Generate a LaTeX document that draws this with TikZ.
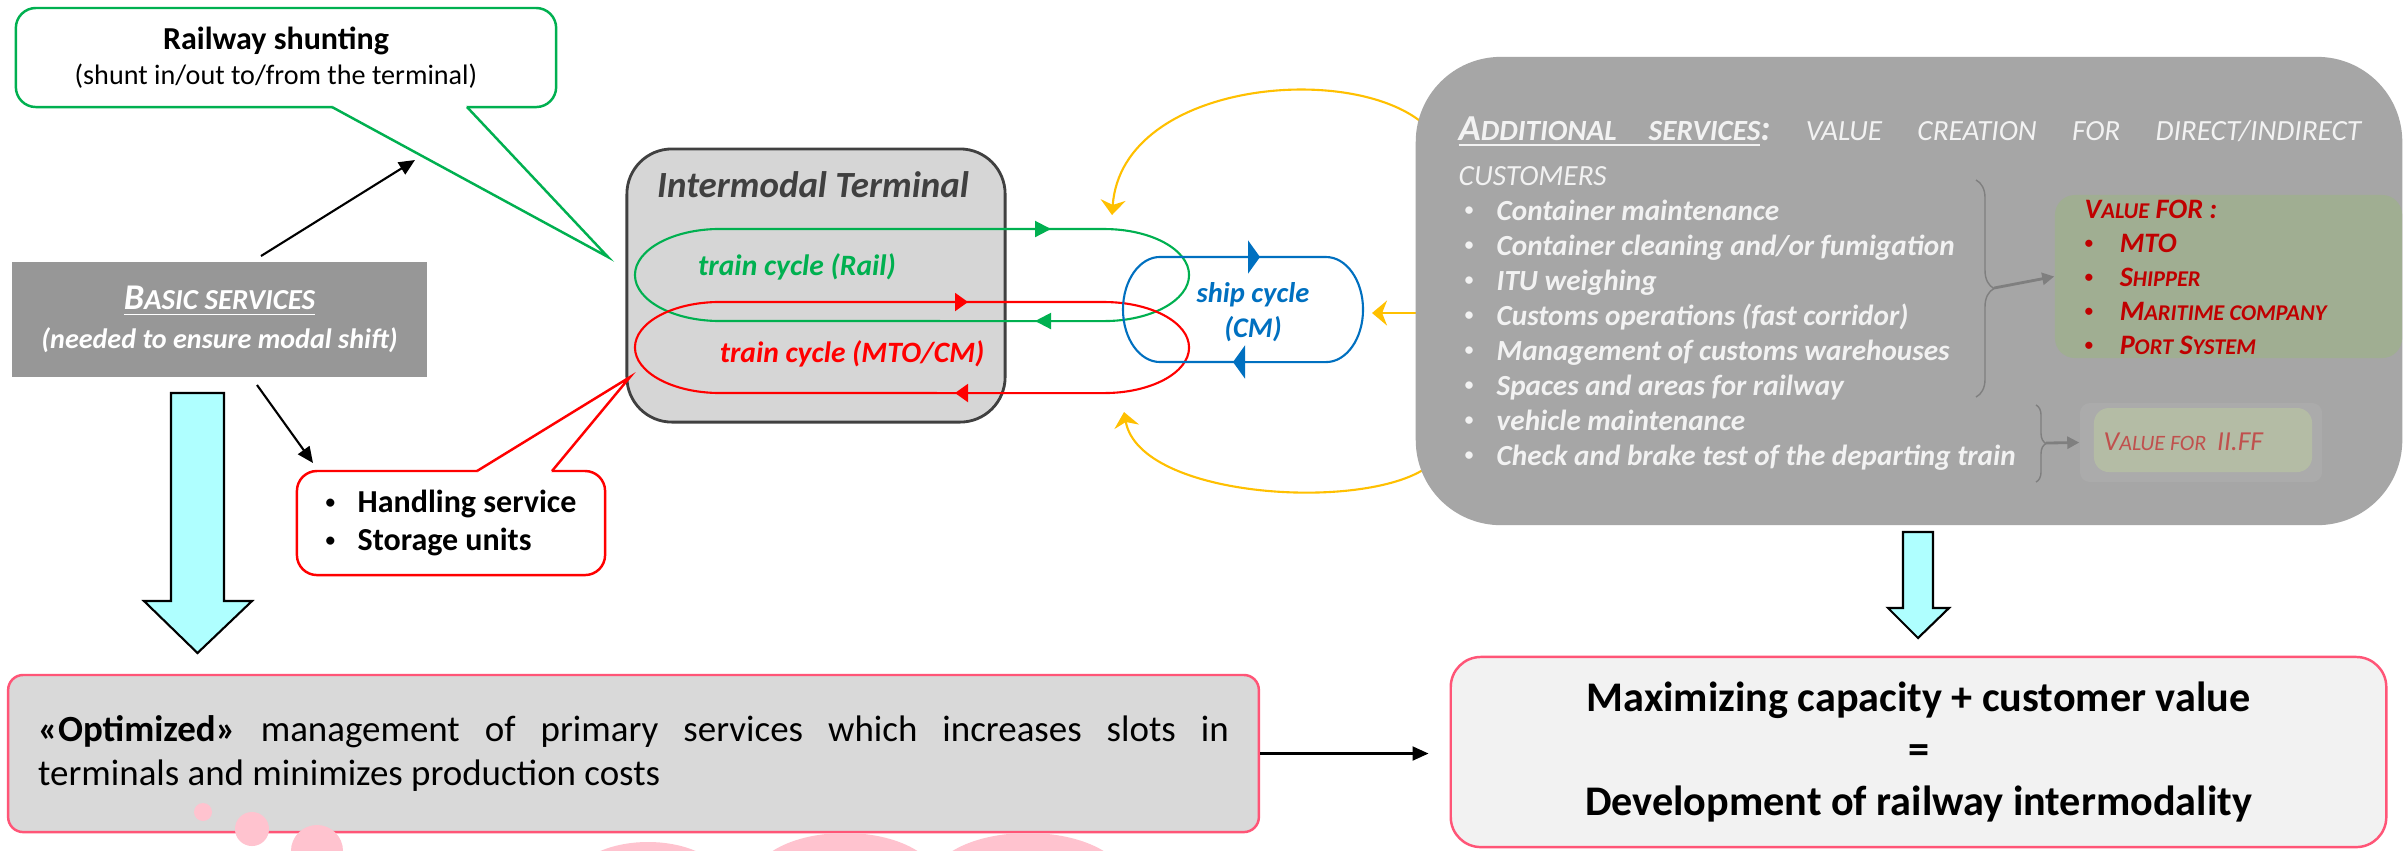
\documentclass[tikz,border=0pt]{standalone}
\usepackage{fontspec}
\setmainfont{Carlito}
\usepackage{xcolor}
\usetikzlibrary{arrows.meta,positioning,decorations.pathreplacing}

\definecolor{grn}{HTML}{00B050}
\definecolor{rd}{HTML}{FF0000}
\definecolor{blu}{HTML}{0070C0}
\definecolor{ylw}{HTML}{FFC000}
\definecolor{dred}{HTML}{C00000}
\definecolor{brick}{HTML}{C0504D}
\definecolor{basicgray}{HTML}{979797}
\definecolor{termfill}{HTML}{D6D6D6}
\definecolor{termline}{HTML}{404040}
\definecolor{addgray}{HTML}{A6A6A6}
\definecolor{glowgray}{HTML}{ABABAB}
\definecolor{valgreen}{HTML}{A0AE92}
\definecolor{iifgreen}{HTML}{B4BCA5}
\definecolor{optfill}{HTML}{D9D9D9}
\definecolor{pinkline}{HTML}{FF5577}
\definecolor{resfill}{HTML}{F2F2F2}
\definecolor{cyanfill}{HTML}{AFFFFF}
\definecolor{blobpink}{HTML}{FFC3CF}
\definecolor{bracegray}{HTML}{7F7F7F}

\newcommand\fsz[2]{\fontsize{#1}{#2}\selectfont}
\newcommand\bul[1]{\makebox[#1][l]{\raisebox{0.14em}{\scalebox{0.6}{\textbullet}}}}
\makeatletter
\newcommand\fakesc[1]{{\fontsize{\fpeval{0.8*\f@size}}{\f@baselineskip}\selectfont #1}}
\makeatother

\begin{document}
\begin{tikzpicture}[x=0.01cm,y=-0.01cm,>={Triangle[length=0.16cm,width=0.14cm]},
  shunt/.style={draw=grn,line width=0.7pt,fill=white,rounded corners=0.2cm,minimum width=5.4cm,minimum height=0.99cm,align=center,font=\fsz{8}{10}},
  basic/.style={fill=basicgray,minimum width=4.15cm,minimum height=1.15cm,align=center,text=white,font=\bfseries\itshape\fsz{8}{11.1}},
  term/.style={draw=termline,line width=0.8pt,fill=termfill,rounded corners=0.45cm,minimum width=3.78cm,minimum height=2.73cm},
  hdl/.style={draw=rd,line width=0.7pt,fill=white,rounded corners=0.2cm,minimum width=3.08cm,minimum height=1.04cm,align=left,font=\bfseries\fsz{9.1}{10.8}},
  add/.style={fill=addgray,rounded corners=0.85cm,minimum width=9.86cm,minimum height=4.68cm},
  valbox/.style={fill=valgreen,rounded corners=0.2cm,minimum width=3.47cm,minimum height=1.63cm},
  iifglow/.style={fill=glowgray,rounded corners=0.1cm,minimum width=2.42cm,minimum height=0.79cm},
  iifbox/.style={fill=iifgreen,rounded corners=0.15cm,minimum width=2.18cm,minimum height=0.64cm},
  opt/.style={draw=pinkline,line width=0.7pt,fill=optfill,rounded corners=0.15cm,text width=11.9cm,inner xsep=0.3cm,minimum height=1.57cm,align=justify,font=\fsz{10.5}{12.5}},
  res/.style={draw=pinkline,line width=0.7pt,fill=resfill,rounded corners=0.3cm,minimum width=9.35cm,minimum height=1.9cm,align=center,font=\bfseries\fsz{12}{14.8}},
  lbl/.style={anchor=base,inner sep=0pt,font=\bfseries\itshape\fsz{8.4}{10}},
  addhead/.style={anchor=base west,inner sep=0pt,text=resfill,font=\itshape\fsz{10.4}{12}},
  item/.style={anchor=base west,inner sep=0pt,text=resfill,font=\bfseries\itshape\fsz{8.3}{10}},
  valtxt/.style={anchor=base west,inner sep=0pt,text=dred,font=\bfseries\itshape\fsz{8}{10}},
  a/.style={->,line width=0.6pt},
  cyc/.style={line width=0.6pt},
  yarr/.style={-{Stealth[length=0.15cm,width=0.25cm]},draw=ylw,line width=0.6pt},
  garr/.style={-{Triangle[length=0.12cm,width=0.12cm]},draw=bracegray,line width=0.8pt},
  brc/.style={decorate,decoration={brace,amplitude=#1},draw=bracegray,line width=0.4pt},
  blk/.style={fill=cyanfill,draw=black,line width=0.6pt},
  blob/.style={fill=blobpink}]
  \useasboundingbox (0,0) rectangle (2407,850);
  \fill[white] (0,0) rectangle (2407,850);

  \node[shunt] (shunt) at (286,57.5) {{\bfseries\fsz{9.1}{10}Railway shunting\hspace*{0.2cm}}\\(shunt in/out to/from the terminal)\hspace*{0.2cm}};
  \node[basic] (basic) at (219.5,319.5) {{\fsz{10.3}{11.1}\underline{B\fakesc{ASIC SERVICES}}}\\(needed to ensure modal shift)};
  \node[term] (term) at (816,285.5) {};
  \node[lbl,text=termline,font=\bfseries\itshape\fsz{10.5}{12}] (termtxt) at (813,197) {Intermodal Terminal};
  \node[hdl] (hdl) at (451,523) {\bul{0.32cm}Handling service\\\bul{0.32cm}Storage units};

  \fill[white] (334,104) -- (465,104) -- (467,107) -- (608,257) -- (332,107) -- cycle;
  \draw[grn,line width=0.7pt] (332,107) -- (608,257) -- (467,107);
  \fill[white] (479,474) -- (550,474) -- (552,471) -- (630,377) -- (477,471) -- cycle;
  \draw[rd,line width=0.7pt] (477,471) -- (630,377) -- (552,471);

  \draw[cyc,grn] (720,229) -- (1104,229) arc[start angle=90,end angle=-90,x radius=0.85cm,y radius=0.46cm] -- (720,321) arc[start angle=270,end angle=90,x radius=0.85cm,y radius=0.46cm] -- cycle;
  \draw[cyc,rd] (720,302) -- (1104,302) arc[start angle=90,end angle=-90,x radius=0.85cm,y radius=0.455cm] -- (720,393) arc[start angle=270,end angle=90,x radius=0.85cm,y radius=0.455cm] -- cycle;
  \draw[cyc,blu] (1160,257) -- (1326,257) arc[start angle=90,end angle=-90,x radius=0.37cm,y radius=0.525cm] -- (1160,362) arc[start angle=270,end angle=90,x radius=0.37cm,y radius=0.525cm] -- cycle;
  \draw[cyc,grn,-{Triangle[length=0.16cm,width=0.16cm]}] (1000,229) -- (1051,229);
  \draw[cyc,grn,-{Triangle[length=0.16cm,width=0.16cm]}] (1090,321) -- (1035,321);
  \draw[cyc,rd,-{Triangle[length=0.13cm,width=0.18cm]}] (920,302) -- (968,302);
  \draw[cyc,rd,-{Triangle[length=0.13cm,width=0.18cm]}] (1010,393) -- (955,393);
  \draw[cyc,blu,-{Triangle[length=0.12cm,width=0.33cm]}] (1210,257) -- (1260,257);
  \draw[cyc,blu,-{Triangle[length=0.12cm,width=0.33cm]}] (1290,362) -- (1233,362);
  \node[lbl,text=grn] (railtxt) at (797,275) {train cycle (Rail)};
  \node[lbl,text=rd] (mtotxt) at (852,362) {train cycle (MTO/CM)};
  \node[lbl,anchor=center,align=center,text=blu,font=\bfseries\itshape\fsz{8.1}{10}] (shiptxt) at (1253,312) {ship cycle\\(CM)};

  \coordinate (ytop) at (1430,130);
  \coordinate (ymid) at (1430,313);
  \coordinate (ybot) at (1430,465);
  \draw[yarr] (ytop) .. controls (1365,60) and (1122,78) .. (1112,215);
  \draw[yarr] (ymid) -- (1372,313);
  \draw[yarr] (ybot) .. controls (1372,512) and (1140,500) .. (1124,412);

  \node[add] (add) at (1909,291) {};
  \node[addhead] (addhead) at (1458,140) {\hbox to 9.02cm{\bfseries\underline{A\fakesc{DDITIONAL}\hspace{0.32cm}\fakesc{SERVICES}}:\hfill\mdseries\fakesc{VALUE}\hfill\fakesc{CREATION}\hfill\fakesc{FOR}\hfill\fakesc{DIRECT/INDIRECT}}};
  \node[addhead] (cust) at (1458,185) {\fakesc{CUSTOMERS}};
  \foreach \t [count=\i from 0] in {Container maintenance,Container cleaning and/or fumigation,ITU weighing,Customs operations (fast corridor),Management of customs warehouses,Spaces and areas for railway,vehicle maintenance,Check and brake test of the departing train}
    \node[item] (it\i) at (1464,220+35*\i) {\bul{0.32cm}\t};

  \node[valbox] (valfor) at (2228.5,276.5) {};
  \node[valtxt] (valhead) at (2084,218) {V\fakesc{ALUE} FOR :};
  \foreach \t [count=\i from 0] in {MTO,S\fakesc{HIPPER},M\fakesc{ARITIME COMPANY},P\fakesc{ORT} S\fakesc{YSTEM}}
    \node[valtxt] (v\i) at (2084,252+34*\i) {\bul{0.35cm}\t};
  \node[iifglow] (iifout) at (2201,442.5) {};
  \node[iifbox] (iif) at (2203,440) {};
  \node[valtxt,text=brick,font=\itshape\fsz{7.8}{10}] (iiftxt) at (2103,450) {V\fakesc{ALUE FOR}\hspace{0.4em}II.FF};

  \draw[brc=0.18cm] (1976,180) -- (1976,397);
  \draw[brc=0.1cm] (2036,405) -- (2036,482);
  \coordinate (br1) at (1994,288);
  \coordinate (br2) at (2046,443);
  \draw[garr] (br1) -- (valfor.west);
  \draw[garr] (br2) -- (iifout.west);

  \coordinate (bs1) at (261,256);
  \coordinate (bs2) at (415,160);
  \coordinate (bh1) at (257,385);
  \coordinate (bh2) at (313,463);
  \draw[a] (bs1) -- (bs2);
  \draw[a] (bh1) -- (bh2);

  \filldraw[blk] (171,393) -- (224,393) -- (224,601) -- (252,601) -- (197.5,653) -- (144,601) -- (171,601) -- cycle;
  \filldraw[blk] (1903,532) -- (1933,532) -- (1933,608) -- (1949,608) -- (1918,638) -- (1888,608) -- (1903,608) -- cycle;

  \node[opt] (opt) at (633.5,753.5) {\textbf{«Optimized»} management of primary services which increases slots in\linebreak terminals and minimizes production costs};
  \node[res] (res) at (1918.5,752) {Maximizing capacity + customer value\\=\\Development of railway intermodality};
  \draw[a] (opt.east) -- (opt.east -| res.west) [shorten >=0.21cm];

  \begin{scope}
    \clip (0,0) rectangle (2407,850);
    \fill[blob] (203,812) circle[radius=0.09cm];
    \fill[blob] (252,829) circle[radius=0.17cm];
    \fill[blob] (317,851) circle[radius=0.26cm];
    \fill[blob] (648,884) ellipse[x radius=0.77cm,y radius=0.42cm];
    \fill[blob] (845,880) ellipse[x radius=0.92cm,y radius=0.47cm];
    \fill[blob] (1028,880) ellipse[x radius=0.96cm,y radius=0.47cm];
  \end{scope}
\end{tikzpicture}
\end{document}
